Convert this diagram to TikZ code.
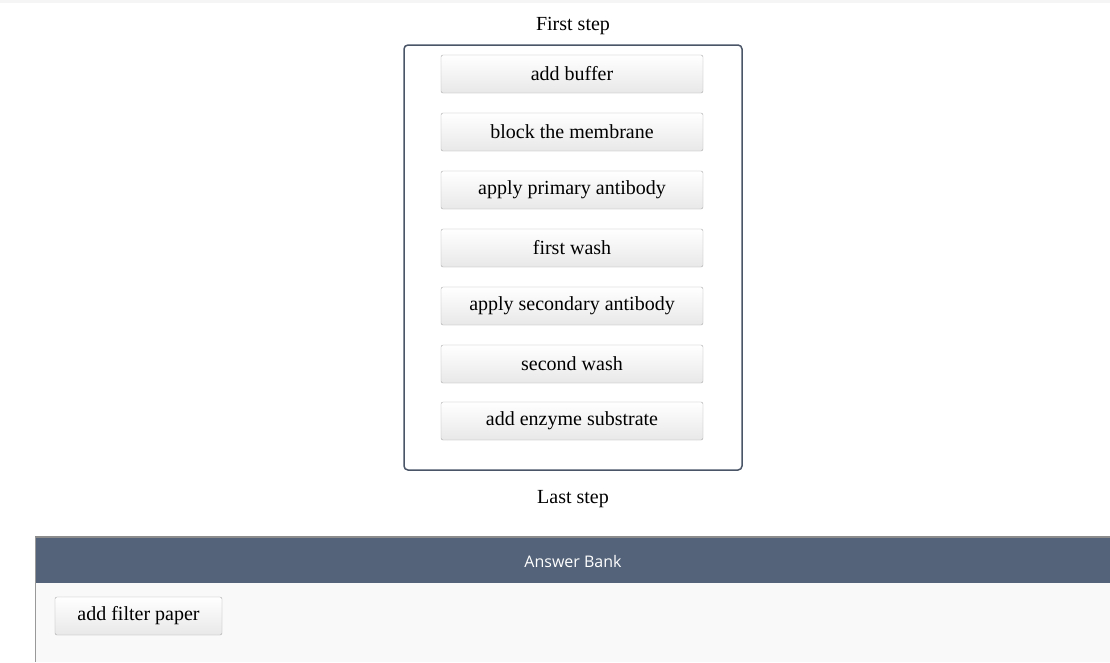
\documentclass[tikz,border=0pt]{standalone}
\usepackage{fontspec}
\setmainfont{Liberation Serif}
\newfontfamily\uisans{Open Sans}
\definecolor{slate}{HTML}{546379}
\definecolor{boxline}{HTML}{4A5568}
\definecolor{btnline}{HTML}{A8A8A8}
\begin{document}
\begin{tikzpicture}[x=1pt,y=-1pt,
  btn/.style={draw=btnline,rounded corners=2pt,top color=white,bottom color=black!9,minimum height=38pt,inner sep=0pt,font=\fontsize{20}{24}\selectfont},
  lbl/.style={font=\fontsize{20}{24}\selectfont,inner sep=0pt}]
\useasboundingbox (0,0) rectangle (1110,662);
\fill[black!4] (0,0) rectangle (1110,3);
\node[lbl] (first) at (573,26) {First step};
\draw[boxline,line width=1.5pt,rounded corners=4pt] (404,45) rectangle (742,470);
\node[btn,minimum width=262pt] (b1) at (572,74) {add buffer};
\node[btn,minimum width=262pt] (b2) at (572,132) {block the membrane};
\node[btn,minimum width=262pt] (b3) at (572,190) {apply primary antibody};
\node[btn,minimum width=262pt] (b4) at (572,248) {first wash};
\node[btn,minimum width=262pt] (b5) at (572,306) {apply secondary antibody};
\node[btn,minimum width=262pt] (b6) at (572,364) {second wash};
\node[btn,minimum width=262pt] (b7) at (572,421) {add enzyme substrate};
\node[lbl] (last) at (573,499) {Last step};
\fill[black!2.5] (35,583) rectangle (1110,662);
\fill[slate] (35,537) rectangle (1110,583);
\draw[black!45,line width=1.5pt] (35,537) -- (1110,537);
\draw[black!40,line width=1pt] (35.5,537) -- (35.5,662);
\node[font=\uisans\fontsize{16}{19}\selectfont,text=white,inner sep=0pt] (ab) at (573,561) {Answer Bank};
\node[btn,minimum width=167pt] (fp) at (138.5,616) {add filter paper};
\end{tikzpicture}
\end{document}
